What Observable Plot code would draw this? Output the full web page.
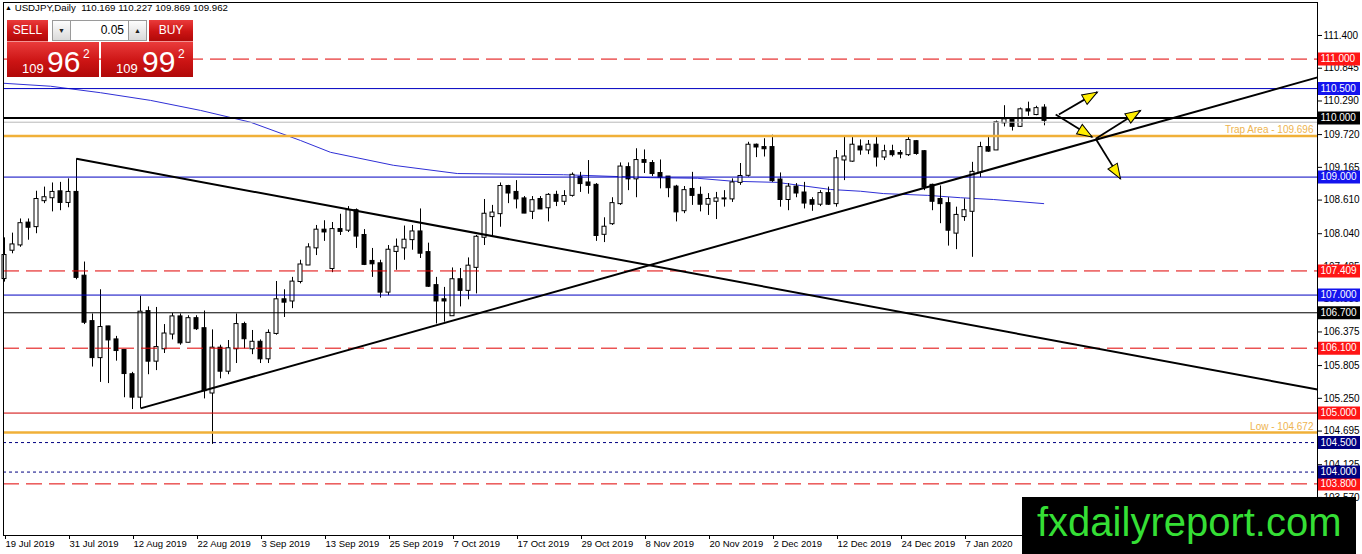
<!DOCTYPE html>
<html>
<head>
<meta charset="utf-8">
<script src="https://cdn.jsdelivr.net/npm/d3@7"></script>
<script src="https://cdn.jsdelivr.net/npm/@observablehq/plot@0.6"></script>
<style>
html,body{margin:0;padding:0;background:#fff;}
#wrap{position:relative;width:1362px;height:554px;overflow:hidden;font-family:"Liberation Sans",Arial,sans-serif;}
#chart{position:absolute;left:0;top:0;}
#hdr{position:absolute;left:5px;top:2px;font-size:9.7px;line-height:12px;color:#000;white-space:pre;}
#hdr .tri{font-size:7px;vertical-align:1px;}
.rb{position:absolute;background:linear-gradient(#ea3b3b,#cc1414 55%,#b00909);color:#fff;box-sizing:border-box;}
.lbl{font-size:12px;line-height:21px;text-align:center;border-bottom:1px solid rgba(255,255,255,.45);}
.btn{position:absolute;background:linear-gradient(#fdfdfd,#dadada);border:1px solid #9a9a9a;box-sizing:border-box;font-size:7px;text-align:center;line-height:19px;color:#222;}
#inp{position:absolute;left:71px;top:20px;width:57px;height:21px;background:#fff;border:1px solid #9a9a9a;border-left:none;border-right:none;box-sizing:border-box;font-size:12px;line-height:19px;text-align:right;padding-right:4px;color:#000;}
.big{position:absolute;color:#fff;white-space:nowrap;}
#logo{position:absolute;left:1022px;top:497px;width:334px;height:57px;background:#000;}
#logo span{position:absolute;left:15px;top:5px;font-size:40px;line-height:40px;color:#35df35;white-space:nowrap;}
</style>
</head>
<body>
<div id="wrap">
  <div id="chart"></div>
  <div id="hdr"><span class="tri">▲</span> USDJPY,Daily&nbsp; 110.169 110.227 109.869 109.962</div>
  <div class="rb lbl" style="left:7px;top:20px;width:41px;height:22px;">SELL</div>
  <div class="btn" style="left:52px;top:20px;width:19px;height:21px;">▼</div>
  <div id="inp">0.05</div>
  <div class="btn" style="left:128px;top:20px;width:19px;height:21px;">▲</div>
  <div class="rb lbl" style="left:149px;top:20px;width:44px;height:22px;">BUY</div>
  <div class="rb" style="left:7px;top:42px;width:92px;height:35px;">
    <span class="big" style="left:15px;top:19.7px;font-size:13px;line-height:13px;">109</span>
    <span class="big" style="left:40px;top:5.3px;font-size:30px;line-height:30px;">96</span>
    <span class="big" style="left:76px;top:6.4px;font-size:12px;line-height:12px;">2</span>
  </div>
  <div class="rb" style="left:101px;top:42px;width:92px;height:35px;">
    <span class="big" style="left:15px;top:19.7px;font-size:13px;line-height:13px;">109</span>
    <span class="big" style="left:41px;top:5.3px;font-size:30px;line-height:30px;">99</span>
    <span class="big" style="left:77px;top:6.4px;font-size:12px;line-height:12px;">2</span>
  </div>
  <div id="logo"><span>fxdailyreport.com</span></div>
</div>
<script>
// ---- data ----
const opens = [107.28,107.76,107.85,108.22,108.16,108.60,108.65,108.75,108.57,108.74,
107.32,106.55,105.94,106.46,106.24,106.06,105.65,105.27,106.72,105.88,
106.09,106.34,106.63,106.20,106.60,106.43,105.34,106.10,105.71,106.09,
106.50,106.09,106.20,105.92,106.35,106.92,106.90,107.23,107.51,107.80,
108.10,107.45,108.11,108.10,108.43,108.01,107.57,107.53,107.05,107.74,
107.80,107.94,108.07,107.72,107.16,106.92,106.65,107.26,107.08,107.47,
107.98,108.33,108.38,108.84,108.74,108.63,108.42,108.62,108.48,108.69,
108.59,108.69,108.99,108.90,108.86,108.03,108.21,108.55,109.16,108.97,
109.28,109.23,109.06,109.00,108.83,108.43,108.79,108.69,108.54,108.59,
108.63,108.63,108.91,109.03,109.54,109.50,109.50,108.95,108.62,108.83,
108.73,108.60,108.54,108.72,108.55,109.29,109.27,109.51,109.46,109.54,
109.34,109.43,109.40,109.38,109.60,109.43,108.86,108.62,108.55,108.05,
108.33,108.42,109.08,109.50,109.46,109.92,109.99,109.86,110.14,110.06,110.169];
const highs = [107.97,108.05,108.29,108.29,108.76,108.83,108.90,108.91,108.97,109.31,
107.56,106.68,107.09,106.47,106.30,106.07,105.69,106.98,106.80,106.79,
106.50,106.69,106.68,106.65,106.65,106.73,106.41,106.15,106.23,106.68,
106.54,106.40,106.24,106.41,107.23,107.09,107.30,107.59,107.87,108.18,
108.26,108.23,108.37,108.50,108.46,108.11,107.79,107.59,107.84,107.95,
108.17,108.18,108.46,107.88,107.30,107.13,107.46,107.45,107.63,108.01,
108.62,108.52,108.90,108.86,108.94,108.67,108.67,108.67,108.72,108.76,
108.77,109.07,109.08,109.28,108.89,108.31,108.65,109.24,109.24,109.48,
109.46,109.28,109.29,109.01,108.86,108.84,109.08,108.83,108.72,108.74,
108.77,108.97,109.23,109.59,109.56,109.65,109.71,109.07,108.89,108.89,
108.91,108.65,108.77,108.83,109.45,109.68,109.67,109.63,109.62,109.68,
109.54,109.54,109.45,109.68,109.62,109.45,108.88,108.85,108.65,108.49,
108.63,109.25,109.59,109.67,109.95,110.21,110.00,110.17,110.27,110.20,110.227];
const lows = [107.22,107.70,107.81,107.93,108.04,108.55,108.41,108.43,108.48,107.26,
106.50,105.78,105.52,105.50,105.88,105.26,105.06,105.08,105.65,105.72,
106.01,106.24,106.15,106.19,106.40,105.24,104.47,105.58,105.65,105.84,
106.09,105.99,105.84,105.84,106.32,106.62,106.77,107.19,107.50,107.67,
107.91,107.38,108.01,108.06,107.79,107.50,107.30,106.95,106.99,107.42,
107.59,107.76,107.62,107.13,106.51,106.54,106.64,106.80,106.92,107.02,
107.84,107.98,108.15,108.55,108.46,108.38,108.28,108.45,108.24,108.50,
108.52,108.66,108.74,108.71,107.91,107.89,108.18,108.52,108.77,108.65,
109.06,109.01,108.80,108.65,108.24,108.38,108.52,108.41,108.35,108.28,
108.49,108.57,108.86,109.00,109.33,109.34,108.91,108.49,108.43,108.65,
108.46,108.42,108.50,108.52,108.49,108.94,109.25,109.37,109.38,109.17,
109.28,109.34,109.31,109.35,109.37,108.77,108.43,108.21,107.83,107.77,
108.25,107.64,108.99,109.42,109.45,109.85,109.78,109.84,110.03,110.04,109.869];
const closes = [107.67,107.85,108.21,108.15,108.62,108.65,108.74,108.57,108.74,107.30,
106.54,105.94,106.45,106.24,106.06,105.67,105.27,106.71,105.88,106.11,
106.34,106.63,106.19,106.60,106.43,105.38,106.10,105.71,106.09,106.50,
106.26,106.20,105.92,106.35,106.92,106.88,107.22,107.51,107.80,108.10,
108.07,108.11,108.08,108.43,108.00,107.52,107.53,107.05,107.76,107.81,
107.93,108.07,107.71,107.15,106.90,106.90,107.26,107.08,107.49,107.98,
108.37,108.39,108.84,108.73,108.63,108.39,108.60,108.46,108.69,108.59,
108.67,109.03,108.89,108.86,108.01,108.15,108.55,109.17,108.97,109.28,
109.25,109.06,109.00,108.82,108.41,108.77,108.69,108.54,108.62,108.63,
108.63,108.90,109.01,109.54,109.51,109.48,108.94,108.62,108.83,108.73,
108.56,108.54,108.72,108.54,109.31,109.34,109.54,109.46,109.54,109.34,
109.43,109.38,109.39,109.62,109.40,108.83,108.59,108.55,108.10,108.35,
108.43,109.08,109.50,109.44,109.92,109.97,109.86,110.14,110.12,110.16,109.962];

const dateIdx = [0,8,16,24,32,40,48,56,64,72,80,88,96,104,112,120];
const dateLabels = ["19 Jul 2019","31 Jul 2019","12 Aug 2019","22 Aug 2019","3 Sep 2019","13 Sep 2019",
  "25 Sep 2019","7 Oct 2019","17 Oct 2019","29 Oct 2019","8 Nov 2019","20 Nov 2019","2 Dec 2019",
  "12 Dec 2019","24 Dec 2019","7 Jan 2020"];
const yTicks = [111.400,110.845,110.290,109.720,109.165,108.610,108.040,107.485,106.930,106.375,105.805,105.250,104.695,104.125,103.570];

// moving average, read at selected bars
const maX = [-0.125,5.75,12,18.25,24.5,30.75,37,40.75,48.6,56.6,69.9,80.75,86.6,91,96.6,103.25,107,109.9,115.4,119.5,123.6,129.9];
const maY = [110.59,110.54,110.43,110.30,110.13,109.93,109.62,109.42,109.20,109.06,109.04,108.99,108.98,108.93,108.91,108.79,108.76,108.72,108.69,108.65,108.62,108.55];

// horizontal levels
const levelValues = [111.000,110.500,110.000,109.000,107.409,107.000,106.700,106.100,105.000,104.500,104.000,103.800];
const levelKinds  = ["redDash","blue","blackThick","blue","redDash","blue","black","redDash","red","navyDot","navyDot","redDash"];
const zoneValues = [109.696,104.672];
const zoneNames  = ["Trap Area","Low"];
const bidValue = 109.93;

// trend lines
const trendX1 = [9,17], trendY1 = [109.31,105.08];
const trendX2 = [164.125,164.125], trendY2 = [105.40,110.69];

// arrows
const arrowX1 = [131.8,131.4,136.4,136.4], arrowY1 = [110.06,110.06,109.65,109.65];
const arrowX2 = [136.6,135.96,142.0,139.5], arrowY2 = [110.44,109.68,110.13,108.97];

// ---- layout ----
const W = 1362, H = 554, mL = 3, mR = 45, mT = 2, mB = 19;
const xDom = [-0.125, 164.125], yDom = [102.925, 111.959];
const kx = (W - mL - mR) / (xDom[1] - xDom[0]);
const ky = (H - mT - mB) / (yDom[1] - yDom[0]);

const styles = {
  redDash:   {stroke:"#e00000", w:1, dash:"16,7", box:"#ff1515"},
  red:       {stroke:"#d00000", w:1, dash:null,   box:"#ff1515"},
  blue:      {stroke:"#0000c0", w:1, dash:null,   box:"#1414ee"},
  blackThick:{stroke:"#000000", w:2, dash:null,   box:"#000000"},
  black:     {stroke:"#000000", w:1, dash:null,   box:"#000000"},
  navyDot:   {stroke:"#000080", w:1, dash:"3,3",  box:"#000080"}
};
const orange = "#f0b038";

const bars = opens.map((o,i)=>({i, o, h:highs[i], l:lows[i], c:closes[i],
  top:Math.max(o,closes[i]), bot:Math.min(o,closes[i])}));
const bull = bars.filter(d=>d.c>=d.o), bear = bars.filter(d=>d.c<d.o);
const levels = levelValues.map((v,k)=>({v, kind:levelKinds[k]}));
const ma = maX.map((x,k)=>({x, y:maY[k]}));
const zones = zoneValues.map((v,k)=>({v, name:zoneNames[k]}));
const trends = trendX1.map((x,k)=>({x1:x, y1:trendY1[k], x2:trendX2[k], y2:trendY2[k]}));
const arrows = arrowX1.map((x,k)=>{
  const dx = (arrowX2[k]-x)*kx, dy = -(arrowY2[k]-arrowY1[k])*ky;
  return {x1:x, y1:arrowY1[k], x2:arrowX2[k], y2:arrowY2[k], rot: Math.atan2(dx,-dy)*180/Math.PI};
});
const headSymbol = {draw(ctx){ ctx.moveTo(0,0); ctx.lineTo(-5.5,15); ctx.lineTo(5.5,15); ctx.closePath(); }};

const xBoxL = xDom[1] + 1/kx, xBoxR = xDom[1] + 43/kx, xBoxT = xDom[1] + 3/kx;

const levelMarks = Object.keys(styles).map(kind => {
  const s = styles[kind];
  return Plot.ruleY(levels.filter(d=>d.kind===kind), {y:"v", stroke:s.stroke, strokeWidth:s.w, strokeDasharray:s.dash || undefined});
});
const boxMarks = Object.keys(styles).map(kind => Plot.ruleY(levels.filter(d=>d.kind===kind),
  {y:"v", x1:xBoxL, x2:xBoxR, stroke:styles[kind].box, strokeWidth:13}));

const chart = Plot.plot({
  width: W, height: H, marginLeft: mL, marginRight: mR, marginTop: mT, marginBottom: mB,
  x: {domain: xDom}, y: {domain: yDom},
  style: {fontFamily:'"Liberation Sans", Arial, sans-serif', fontSize:"10px", color:"#000", background:"transparent", overflow:"visible"},
  marks: [
    Plot.line(ma, {x:"x", y:"y", stroke:"#2f2fd6", strokeWidth:1}),
    Plot.ruleX(bars, {x:"i", y1:"l", y2:"h", stroke:"#000", strokeWidth:1}),
    Plot.rect(bull, {x1:d=>d.i-0.25, x2:d=>d.i+0.25, y1:"bot", y2:"top", fill:"#fff", stroke:"#000", strokeWidth:1, insetTop:-0.5, insetBottom:-0.5}),
    Plot.rect(bear, {x1:d=>d.i-0.25, x2:d=>d.i+0.25, y1:"bot", y2:"top", fill:"#000", stroke:"#000", strokeWidth:1, insetTop:-0.5, insetBottom:-0.5}),
    ...levelMarks,
    Plot.ruleY([bidValue], {stroke:"#b8b8b8", strokeWidth:1}),
    Plot.ruleY(zones, {y:"v", stroke:orange, strokeWidth:2.5}),
    Plot.text(zones, {x:xDom[1], y:"v", text:d=>`${d.name} - ${d.v.toFixed(3)}`, textAnchor:"end", dx:-4, dy:-6, fill:"#eeb450", fontSize:10}),
    Plot.link(trends, {x1:"x1", y1:"y1", x2:"x2", y2:"y2", stroke:"#000", strokeWidth:2}),
    Plot.link(arrows, {x1:"x1", y1:"y1", x2:"x2", y2:"y2", stroke:"#000", strokeWidth:1.8}),
    Plot.dot(arrows, {x:"x2", y:"y2", symbol:headSymbol, rotate:"rot", fill:"#ffee00", stroke:"#000", strokeWidth:1}),
    Plot.frame({stroke:"#000"}),
    Plot.axisY({anchor:"right", ticks:yTicks, tickFormat:d=>d.toFixed(3), tickSize:4, tickPadding:2, label:null, fontSize:10}),
    Plot.axisX({ticks:dateIdx, tickFormat:d=>dateLabels[dateIdx.indexOf(d)], tickSize:4, tickPadding:1, textAnchor:"start", dx:1, label:null, fontSize:9.5}),
    ...boxMarks,
    Plot.text(levels, {x:xBoxT, y:"v", text:d=>d.v.toFixed(3), textAnchor:"start", fill:"#fff", fontSize:10})
  ]
});
document.getElementById("chart").appendChild(chart);
</script>
</body>
</html>
